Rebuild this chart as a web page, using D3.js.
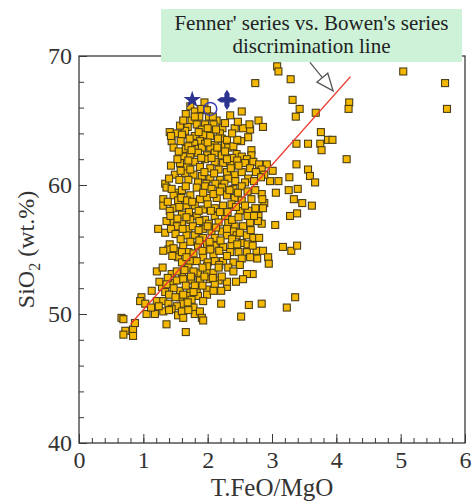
<!DOCTYPE html>
<html>
<head>
<meta charset="utf-8">
<script src="https://cdn.jsdelivr.net/npm/d3@7"></script>
<style>
    body { margin: 0; background: #fff; }
    svg text { font-family: "Liberation Serif", "Times New Roman", serif; }
</style>
</head>
<body>
<svg id="chart" width="473" height="503"></svg>
<script>
// samples: [T.FeO/MgO, SiO2 wt.%]
const upperCluster = [
    [1.95,66.4],[1.73,66.1],[1.80,65.7],[1.90,65.9],[1.99,65.8],[1.66,65.5],[1.87,65.3],[2.02,65.3],[2.14,65.0],[2.53,65.7],
    [2.35,65.4],[2.79,65.0],[2.86,64.5],[2.42,64.4],[2.55,64.4],[2.66,64.3],[2.63,63.7],[2.52,63.4],[1.75,65.0],[1.83,64.7],
    [1.96,64.7],[2.09,64.7],[1.69,64.5],[1.65,64.2],[1.91,64.3],[2.04,64.1],[2.23,64.4],[2.19,64.0],[1.52,64.0],[1.60,63.9],
    [1.44,63.4],[1.47,62.9],[1.80,63.8],[1.93,63.9],[2.04,63.8],[2.22,63.6],[1.88,63.4],[1.79,63.2],[1.96,63.2],[2.11,63.1],
    [2.27,63.1],[1.66,62.8],[1.83,62.8],[1.91,62.9],[2.04,62.9],[2.32,62.9],[1.62,62.2],[1.73,62.3],[1.85,62.5],[1.99,62.3],
    [2.11,62.5],[2.22,62.3],[2.45,62.4],[2.53,62.2],[2.68,62.7],[2.68,62.3],[2.61,62.0],[2.58,61.7],[2.71,61.8],[2.80,61.6],
    [2.92,61.6],[3.01,61.1],[2.84,61.2],[2.37,61.6],[2.24,61.7],[2.11,61.8],[1.96,62.0],[1.80,61.8],[1.67,61.4],[1.88,61.4],
    [2.04,61.3],[2.17,61.2],[2.30,61.0],[2.42,60.8],[2.53,61.0],[2.63,60.5],[1.49,60.8],[1.65,60.9],[1.78,60.8],[1.91,60.7],
    [2.04,60.5],[2.19,60.4],[2.32,60.5],[3.10,60.3],[2.97,60.3],[1.34,60.1],
    [1.72,63.6],[1.86,64.1],[2.00,64.4],[2.13,64.3],[1.58,63.4],[1.70,63.0],[2.16,63.6],[2.30,63.5],[2.40,63.0],[2.46,63.5],
    [2.38,64.0],[1.55,62.6],[1.75,62.7],[2.00,63.3],[2.15,62.9],[2.27,62.6],[2.38,62.1],[1.57,61.7],[1.70,61.9],[1.90,62.1],
    [2.06,62.1],[2.30,62.0],[2.46,61.9],[1.58,61.1],[1.73,61.2],[1.95,61.0],[2.10,60.9],[2.36,61.3],[2.48,61.5],[2.66,61.3],
    [2.75,61.0],[2.88,60.8],[1.43,61.5],[1.53,62.0],[1.40,60.5],[1.56,60.4],[1.70,60.4],[1.85,60.2],[1.98,60.1],[2.12,60.1],
    [2.26,60.1],[2.43,60.3],[2.58,60.2],[2.72,60.3],[2.83,60.6],[1.41,64.1],[1.43,63.8],[1.57,64.6],[1.62,65.0],[1.80,65.3],
    [2.08,65.3],[2.27,64.8],[2.47,64.9],[2.65,64.7]
]

const middleCluster = [
    [1.36,59.8],[1.52,59.4],[1.47,59.2],[1.31,58.9],[1.31,58.4],[1.47,58.2],[1.54,58.8],[1.73,59.2],[1.83,59.8],[1.96,59.9],
    [2.06,59.7],[2.22,59.8],[2.40,59.7],[2.53,59.9],[2.42,59.0],[2.30,59.2],[2.14,59.0],[1.99,59.0],[1.88,58.9],[1.67,58.4],
    [1.80,58.4],[1.93,58.1],[2.11,58.2],[2.24,58.4],[2.37,58.5],[2.53,58.8],[2.68,58.9],[2.74,58.2],[2.63,58.0],[2.50,58.0],
    [2.79,57.6],[2.66,57.1],[2.55,56.8],[2.42,56.8],[2.32,57.1],[2.27,57.6],[2.11,57.6],[1.96,57.3],[1.83,57.6],[1.73,57.3],
    [1.60,57.0],[1.47,57.1],[1.36,57.2],[1.52,56.8],[1.23,56.6],[1.34,56.3],[1.70,56.6],[1.93,56.6],[2.06,56.4],[2.22,56.4],
    [2.40,56.4],[1.67,56.1],[1.80,56.1],[1.93,55.9],[2.11,55.9],[2.30,56.1],[2.45,56.1],[2.61,56.1],[2.71,55.9],[2.80,55.9],
    [2.53,55.5],[1.41,55.4],[1.39,55.0],[1.31,54.9],[1.52,54.9],[1.62,55.3],[1.70,54.8],[1.85,55.3],[1.99,55.4],[2.11,55.3],
    [2.24,55.2],[2.37,55.3],[2.35,54.8],[2.48,54.8],[2.61,54.8],[2.76,54.9],[1.54,54.4],[1.60,54.0],[1.73,54.1],[1.93,54.4],
    [2.09,54.6],[2.11,54.1],[2.24,54.1],[2.40,54.0],
    [2.84,59.3],[3.06,59.4],[3.26,59.6],[3.40,59.7],[3.34,58.9],[3.47,58.6],[3.62,58.4],[2.88,58.6],[2.86,58.2],[3.28,57.6],
    [3.39,57.8],[3.05,56.9],[2.84,57.0],[2.78,57.2],[3.17,55.2],[3.30,54.9],[3.39,55.3],[2.86,54.9],[2.94,54.4],[2.95,53.9],
    [2.77,54.3],
    [1.44,59.7],[1.60,59.6],[1.66,59.9],[1.59,59.0],[1.68,58.8],[1.76,58.7],[1.93,59.4],[2.09,59.3],[2.19,59.5],[2.34,59.6],
    [2.47,59.4],[2.62,59.5],[2.74,59.6],[1.38,58.7],[1.41,58.0],[1.56,58.3],[1.60,57.7],[1.71,57.9],[1.86,58.0],[2.00,58.5],
    [2.05,58.0],[2.19,57.9],[2.31,57.9],[2.44,58.3],[2.58,58.4],[2.85,58.9],[1.42,57.6],[1.53,57.4],[1.67,57.5],[1.87,57.2],
    [2.02,57.0],[2.17,57.1],[2.38,57.3],[2.48,57.5],[2.62,57.6],[2.72,57.6],[1.43,56.6],[1.61,56.6],[1.77,56.8],[1.86,56.5],
    [2.00,56.8],[2.13,56.7],[2.30,56.6],[2.50,56.3],[2.67,56.5],[1.50,56.2],[1.58,55.8],[1.73,55.6],[1.87,55.7],[2.03,55.6],
    [2.20,55.7],[2.38,55.8],[2.46,55.4],[2.62,55.4],[2.70,55.3],[1.47,55.1],[1.60,54.8],[1.78,54.7],[1.92,54.9],[2.04,55.0],
    [2.18,54.9],[2.30,54.5],[2.53,54.3],[2.66,54.4],[1.45,54.5],[1.67,54.4],[1.83,54.1],[2.00,54.0],[2.18,53.8],[2.50,53.8]
]

const lowerCluster = [
    [1.21,53.3],[1.44,53.1],[1.60,52.9],[1.70,53.6],[1.85,53.2],[1.99,53.2],[2.09,53.2],[1.99,53.7],[2.17,53.6],[2.32,53.6],
    [2.40,53.3],[1.13,51.8],[1.29,52.1],[1.44,52.4],[1.52,52.6],[1.62,52.7],[1.75,52.6],[1.88,52.6],[2.04,52.7],[2.17,52.6],
    [2.30,52.1],[2.11,52.3],[1.99,51.9],[1.83,51.9],[1.73,51.8],[1.57,51.8],[1.47,52.0],[1.34,51.7],[0.97,51.3],[0.95,51.0],
    [1.03,50.8],[1.21,51.0],[1.31,51.0],[1.39,50.8],[1.57,51.3],[1.70,51.4],[1.85,51.4],[1.99,51.5],[2.09,51.8],[1.75,51.1],
    [1.62,50.8],[1.52,50.6],[1.44,50.4],[1.31,50.2],[1.18,50.0],[1.05,50.0],[1.78,50.5],[1.80,50.0],[1.88,50.2],[1.54,49.9],
    [1.60,50.2],[1.91,49.7],[1.93,49.5],[1.62,49.7],[0.66,49.7],[0.69,49.6],[0.72,48.7],[0.84,48.8],[0.84,48.3],[0.69,48.4],
    [0.87,49.3],[1.36,49.2],[1.66,48.6],
    [2.70,53.1],[2.61,53.1],[2.55,52.7],[2.44,52.5],[2.30,52.5],[2.21,51.8],[2.21,50.8],[2.52,49.8],[2.64,50.7],[2.84,50.8],
    [3.23,50.5],[3.36,51.3],
    [1.30,53.6],[1.38,52.8],[1.52,53.3],[1.64,53.4],[1.78,53.3],[1.92,53.6],[1.74,52.9],[1.95,52.9],[2.08,52.8],[1.25,52.5],
    [1.36,52.3],[1.66,52.2],[1.80,52.2],[1.92,52.2],[2.22,52.9],[1.40,51.5],[1.50,51.3],[1.62,51.5],[1.78,51.7],[1.93,51.0],
    [1.69,50.9],[1.40,50.3],[1.70,50.3],[1.12,50.5],[1.24,50.6]
]

const scattered = [
    [3.08,69.2],[3.10,68.8],[2.74,67.9],[3.29,68.2],[3.32,66.6],[3.43,65.9],[3.37,65.3],[3.68,65.6],[4.20,66.4],[4.19,65.9],
    [3.27,60.6],[3.38,61.6],[3.56,61.2],[3.59,60.7],[3.67,60.2],[3.76,64.1],[3.87,63.5],[3.94,63.5],[3.75,63.2],[3.77,62.7],
    [3.56,63.2],[3.38,63.2],[4.16,62.0],[5.04,68.8],[5.69,67.9],[5.72,65.9]
]

// reference samples (blue symbols)
const starSample = [1.76, 66.6]
const circleSample = [2.04, 65.9]
const crossSample = [2.30, 66.6]

const discriminationLine = [[0.8, 49.2], [4.22, 68.4]]
const arrowFrom = [3.59, 69.5]
const arrowTo = [3.95, 67.3]

const xTicks = [0, 1, 2, 3, 4, 5, 6]
const yTicks = [40, 50, 60, 70]
const xMinor = d3.range(0, 6.001, 0.2)
const yMinor = d3.range(40, 70.001, 2)

const svg = d3.select('#chart')
const plotLeft = 79, plotRight = 465, plotTop = 56, plotBottom = 443

const x = d3.scaleLinear().domain([0, 6]).range([plotLeft, plotRight])
const y = d3.scaleLinear().domain([40, 70]).range([plotBottom, plotTop])

const axisColor = '#3a3a3a'

// minor ticks first, inward
let g = svg.append('g').attr('transform', 'translate(0,' + plotBottom + ')')
    .call(d3.axisBottom(x).tickValues(xMinor).tickSize(-5).tickSizeOuter(0).tickFormat(''))
g.select('.domain').remove()
g.selectAll('line').attr('stroke', axisColor)

g = svg.append('g').attr('transform', 'translate(' + plotLeft + ',0)')
    .call(d3.axisLeft(y).tickValues(yMinor).tickSize(-5).tickSizeOuter(0).tickFormat(''))
g.select('.domain').remove()
g.selectAll('line').attr('stroke', axisColor)

// major ticks + labels
g = svg.append('g').attr('transform', 'translate(0,' + plotBottom + ')')
    .call(d3.axisBottom(x).tickValues(xTicks).tickSize(-9).tickSizeOuter(0).tickPadding(8)
        .tickFormat(d3.format('d')))
g.select('.domain').remove()
g.selectAll('line').attr('stroke', axisColor)
g.selectAll('text').attr('font-size', 24).attr('fill', '#333')
    .style('font-family', '"Liberation Serif", serif')

g = svg.append('g').attr('transform', 'translate(' + plotLeft + ',0)')
    .call(d3.axisLeft(y).tickValues(yTicks).tickSize(-8).tickSizeOuter(0).tickPadding(7)
        .tickFormat(d3.format('d')))
g.select('.domain').remove()
g.selectAll('line').attr('stroke', axisColor)
g.selectAll('text').attr('font-size', 24).attr('fill', '#333')
    .style('font-family', '"Liberation Serif", serif')

// frame
svg.append('rect')
    .attr('x', plotLeft).attr('y', plotTop)
    .attr('width', plotRight - plotLeft).attr('height', plotBottom - plotTop)
    .attr('fill', 'none').attr('stroke', axisColor).attr('stroke-width', 1.3)

// axis titles
svg.append('text')
    .attr('x', (plotLeft + plotRight) / 2).attr('y', 496)
    .attr('text-anchor', 'middle').attr('font-size', 25).attr('fill', '#333')
    .text('T.FeO/MgO')

let yt = svg.append('text')
    .attr('transform', 'translate(34,' + ((plotTop + plotBottom) / 2) + ') rotate(-90)')
    .attr('text-anchor', 'middle').attr('font-size', 24).attr('fill', '#333')
yt.append('tspan').text('SiO')
yt.append('tspan').attr('font-size', 16).attr('dy', 6).text('2')
yt.append('tspan').attr('dy', -6).text(' (wt.%)')

// samples
let allPoints = upperCluster.concat(middleCluster, lowerCluster, scattered)
let sq = 7
svg.append('g').selectAll('rect')
    .data(allPoints)
    .enter()
    .append('rect')
    .attr('x', function (d) { return x(d[0]) - sq / 2 })
    .attr('y', function (d) { return y(d[1]) - sq / 2 })
    .attr('width', sq).attr('height', sq)
    .attr('fill', '#f4b800')
    .attr('stroke', '#4a3d18')
    .attr('stroke-width', 1.1)

// discrimination line
svg.append('path')
    .datum(discriminationLine)
    .attr('d', d3.line().x(function (d) { return x(d[0]) }).y(function (d) { return y(d[1]) }))
    .attr('stroke', '#e83a2e').attr('stroke-width', 1.4).attr('fill', 'none')

// blue symbols
const navy = '#2c348f'
svg.append('path')
    .attr('d', d3.symbol().type(d3.symbolStar).size(95)())
    .attr('transform', 'translate(' + x(starSample[0]) + ',' + y(starSample[1]) + ')')
    .attr('fill', navy)
svg.append('circle')
    .attr('cx', x(circleSample[0])).attr('cy', y(circleSample[1])).attr('r', 6.5)
    .attr('fill', 'none').attr('stroke', '#3b3fb5').attr('stroke-width', 1.5)
// cross with pointed arms
let crossPath = 'M-2,-2 L-2,-6 L0,-9 L2,-6 L2,-2 L6,-2 L9,0 L6,2 L2,2 L2,6 L0,9 L-2,6 L-2,2 L-6,2 L-9,0 L-6,-2 Z'
svg.append('path')
    .attr('d', crossPath)
    .attr('transform', 'translate(' + x(crossSample[0]) + ',' + y(crossSample[1]) + ')')
    .attr('fill', navy).attr('stroke', navy).attr('stroke-width', 1.2)

// label box
svg.append('rect')
    .attr('x', 161).attr('y', 9).attr('width', 301).attr('height', 53)
    .attr('fill', '#cdf2d8')
svg.append('text')
    .attr('x', 311.5).attr('y', 30).attr('text-anchor', 'middle')
    .attr('font-size', 21).attr('fill', '#222')
    .text("Fenner' series vs. Bowen's series")
svg.append('text')
    .attr('x', 311.5).attr('y', 53).attr('text-anchor', 'middle')
    .attr('font-size', 21).attr('fill', '#222')
    .text('discrimination line')

// hollow arrow from the label to the line
let sx = x(arrowFrom[0]), sy = y(arrowFrom[1])
let tx = x(arrowTo[0]), ty = y(arrowTo[1])
let len = Math.hypot(tx - sx, ty - sy)
let ux = (tx - sx) / len, uy = (ty - sy) / len
let headLen = 17, headHalf = 7
let bx = tx - ux * headLen, by = ty - uy * headLen
svg.append('line')
    .attr('x1', sx).attr('y1', sy).attr('x2', bx).attr('y2', by)
    .attr('stroke', '#555').attr('stroke-width', 1.3)
svg.append('path')
    .attr('d', 'M' + tx + ',' + ty +
        'L' + (bx - uy * headHalf) + ',' + (by + ux * headHalf) +
        'L' + (bx + uy * headHalf) + ',' + (by - ux * headHalf) + 'Z')
    .attr('fill', '#fff').attr('stroke', '#555').attr('stroke-width', 1.3)
</script>
</body>
</html>
